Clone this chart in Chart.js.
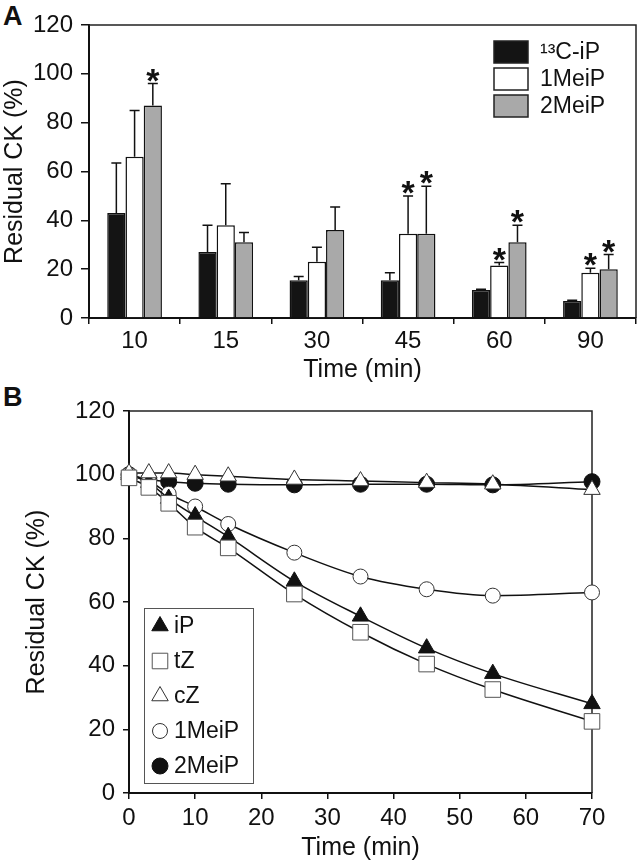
<!DOCTYPE html>
<html>
<head>
<meta charset="utf-8">
<script src="https://cdn.jsdelivr.net/npm/chart.js@4.4.1/dist/chart.umd.min.js"></script>
<style>
  body { margin: 0; background: #fff; width: 640px; height: 866px; position: relative; overflow: hidden; }
  canvas { position: absolute; left: 0; }
  #chartA { top: 0; }
  #chartB { top: 376px; }
  .panel { position: absolute; font: bold 27px "Liberation Sans", Arial, sans-serif; color: #111; line-height: 1; }
</style>
</head>
<body>
<div class="panel" style="left:3px;top:3px">A</div>
<div class="panel" style="left:3px;top:384px">B</div>
<canvas id="chartA" width="640" height="386"></canvas>
<canvas id="chartB" width="640" height="490"></canvas>
<script>
// Panel A: residual CK per incubation time
const timesA = ['10', '15', '30', '45', '60', '90'];
const seriesA = ['¹³C-iP', '1MeiP', '2MeiP'];
const c13iP = [43, 27, 15.5, 15.5, 11.5, 7];
const meiP1 = [66, 38, 23, 34.5, 21.5, 18.5];
const meiP2 = [87, 31, 36, 34.5, 31, 20];
const errC13iP = [20.5, 11, 1.5, 3, 0.3, 0.3];
const errMeiP1 = [19, 17, 6, 15.5, 1.2, 1.9];
const errMeiP2 = [9, 4, 9.5, 19.5, 7, 6];
const starsC13iP = [0, 0, 0, 0, 0, 0];
const starsMeiP1 = [0, 0, 0, 1, 1, 1];
const starsMeiP2 = [1, 0, 0, 1, 1, 1];

// Panel B: time course
const timesB = [0, 3, 6, 10, 15, 25, 35, 45, 55, 70];
const iP = [100, 97.5, 92.5, 87, 80.5, 66.5, 55.5, 45.5, 37.5, 28];
const tZ = [99, 96, 91, 83.5, 77, 62.5, 50.5, 40.5, 32.5, 22.5];
const cZ = [100.5, 100.5, 100.5, 100, 99.5, 98.5, 98, 97.5, 97, 95.3];
const meiP1B = [100, 98, 94, 90, 84.5, 75.5, 68, 64, 62, 63];
const meiP2B = [100, 98.5, 97.8, 97.3, 97, 96.8, 97, 97, 96.8, 97.8];

const FONT = '"Liberation Sans", Arial, sans-serif';
Chart.defaults.font.family = FONT;
Chart.defaults.color = '#111';

// top + right frame of the plot area
const framePlugin = {
  id: 'frame',
  beforeDatasetsDraw(chart) {
    const { ctx, chartArea: a } = chart;
    ctx.save();
    ctx.strokeStyle = '#222';
    ctx.lineWidth = 1.5;
    ctx.beginPath();
    ctx.moveTo(a.left, a.top);
    ctx.lineTo(a.right, a.top);
    ctx.lineTo(a.right, a.bottom);
    ctx.stroke();
    ctx.restore();
  }
};

const errorBarPlugin = {
  id: 'errorBars',
  afterDatasetsDraw(chart) {
    const { ctx } = chart;
    const y = chart.scales.y;
    ctx.save();
    ctx.strokeStyle = '#111';
    ctx.fillStyle = '#111';
    ctx.lineWidth = 1.5;
    chart.data.datasets.forEach((ds, i) => {
      chart.getDatasetMeta(i).data.forEach((bar, j) => {
        const top = y.getPixelForValue(ds.data[j] + ds.errors[j]);
        ctx.beginPath();
        ctx.moveTo(bar.x, bar.y);
        ctx.lineTo(bar.x, top);
        ctx.moveTo(bar.x - 5, top);
        ctx.lineTo(bar.x + 5, top);
        ctx.stroke();
        if (ds.stars[j]) {
          ctx.font = 'bold 34px ' + FONT;
          ctx.textAlign = 'center';
          ctx.textBaseline = 'alphabetic';
          ctx.fillText('*', bar.x, top + 8);
        }
      });
    });
    ctx.restore();
  }
};

const legendAPlugin = {
  id: 'legendA',
  afterDraw(chart) {
    const { ctx, chartArea: a } = chart;
    ctx.save();
    ctx.font = '23px ' + FONT;
    ctx.textBaseline = 'middle';
    ctx.textAlign = 'left';
    chart.data.datasets.forEach((ds, i) => {
      const cy = a.top + 27 + i * 27;
      const x = a.right - 142;
      ctx.fillStyle = ds.backgroundColor;
      ctx.fillRect(x, cy - 11, 34, 22);
      ctx.strokeStyle = '#222';
      ctx.lineWidth = 1.5;
      ctx.strokeRect(x, cy - 11, 34, 22);
      ctx.fillStyle = '#111';
      ctx.fillText(ds.label, x + 46, cy + 1);
    });
    ctx.restore();
  }
};

const legendBPlugin = {
  id: 'legendB',
  afterDraw(chart) {
    const { ctx, chartArea: a } = chart;
    const bx = a.left + 15, by = a.bottom - 185, bw = 109, bh = 175;
    ctx.save();
    ctx.fillStyle = '#fff';
    ctx.fillRect(bx, by, bw, bh);
    ctx.strokeStyle = '#555';
    ctx.lineWidth = 1;
    ctx.strokeRect(bx + 0.5, by + 0.5, bw, bh);
    ctx.font = '23px ' + FONT;
    ctx.textBaseline = 'middle';
    [0, 1, 2, 3, 4].forEach((k, i) => {
      const ds = chart.data.datasets.find(d => d.legendIndex === k);
      const cy = by + 18 + i * 35;
      ctx.fillStyle = ds.pointBackgroundColor;
      ctx.strokeStyle = ds.pointBorderColor;
      ctx.lineWidth = 1;
      Chart.helpers.drawPoint(ctx, { pointStyle: ds.pointStyle, radius: ds.pointRadius, rotation: 0, borderWidth: 1 }, bx + 16, cy);
      ctx.fillStyle = '#111';
      ctx.fillText(ds.label, bx + 30, cy + 1);
    });
    ctx.restore();
  }
};

new Chart(document.getElementById('chartA'), {
  type: 'bar',
  data: {
    labels: timesA,
    datasets: [
      { label: seriesA[0], data: c13iP, errors: errC13iP, stars: starsC13iP, backgroundColor: '#141414' },
      { label: seriesA[1], data: meiP1, errors: errMeiP1, stars: starsMeiP1, backgroundColor: '#ffffff' },
      { label: seriesA[2], data: meiP2, errors: errMeiP2, stars: starsMeiP2, backgroundColor: '#a9a9a9' }
    ].map(d => Object.assign(d, { borderColor: '#111', borderWidth: 1.5, categoryPercentage: 0.6, barPercentage: 1 }))
  },
  options: {
    responsive: false, animation: false,
    layout: { padding: { left: 0, top: 25, right: 4, bottom: 0 } },
    plugins: { legend: { display: false }, tooltip: { enabled: false } },
    scales: {
      x: {
        grid: { drawOnChartArea: false, tickLength: 6, color: '#111', lineWidth: 1.5 },
        border: { color: '#111', width: 2 },
        ticks: { font: { size: 24 }, padding: 3 },
        title: { display: true, text: 'Time (min)', font: { size: 25 }, padding: { top: 0, bottom: 1 } },
        afterFit: s => { s.height = 68; }
      },
      y: {
        min: 0, max: 120,
        grid: { drawOnChartArea: false, tickLength: 8, color: '#111', lineWidth: 1.5 },
        border: { color: '#111', width: 2 },
        ticks: { stepSize: 20, font: { size: 24 }, padding: 8 },
        title: { display: true, text: 'Residual CK (%)', font: { size: 25 }, padding: { top: 0, bottom: 0 } },
        afterFit: s => { s.width = 89; }
      }
    }
  },
  plugins: [framePlugin, errorBarPlugin, legendAPlugin]
});

const pts = (ys) => timesB.map((x, i) => ({ x, y: ys[i] }));
const line = { borderColor: '#111', borderWidth: 1.5, cubicInterpolationMode: 'monotone', clip: false, pointBorderWidth: 1 };

new Chart(document.getElementById('chartB'), {
  type: 'line',
  data: {
    datasets: [
      { label: 'tZ', legendIndex: 1, order: 0, data: pts(tZ), pointStyle: 'rect', pointRadius: 11, pointBackgroundColor: '#fff', pointBorderColor: '#555' },
      { label: 'cZ', legendIndex: 2, order: 1, data: pts(cZ), pointStyle: 'triangle', pointRadius: 9.5, pointBackgroundColor: '#fff', pointBorderColor: '#333' },
      { label: 'iP', legendIndex: 0, order: 2, data: pts(iP), pointStyle: 'triangle', pointRadius: 9.5, pointBackgroundColor: '#111', pointBorderColor: '#111' },
      { label: '1MeiP', legendIndex: 3, order: 3, data: pts(meiP1B), pointStyle: 'circle', pointRadius: 7.5, pointBackgroundColor: '#fff', pointBorderColor: '#333' },
      { label: '2MeiP', legendIndex: 4, order: 4, data: pts(meiP2B), pointStyle: 'circle', pointRadius: 8, pointBackgroundColor: '#111', pointBorderColor: '#111' }
    ].map(d => Object.assign(d, line))
  },
  options: {
    responsive: false, animation: false,
    layout: { padding: { left: 22, top: 35, right: 48, bottom: 0 } },
    plugins: { legend: { display: false }, tooltip: { enabled: false } },
    scales: {
      x: {
        type: 'linear', min: 0, max: 70,
        grid: { drawOnChartArea: false, tickLength: 6, color: '#111', lineWidth: 1.5 },
        border: { color: '#111', width: 2 },
        ticks: { stepSize: 10, font: { size: 24 }, padding: 5 },
        title: { display: true, text: 'Time (min)', font: { size: 25 }, padding: { top: 0, bottom: 3 } },
        afterFit: s => { s.height = 73; }
      },
      y: {
        min: 0, max: 120,
        grid: { drawOnChartArea: false, tickLength: 6, color: '#111', lineWidth: 1.5 },
        border: { color: '#111', width: 2 },
        ticks: { stepSize: 20, font: { size: 24 }, padding: 8 },
        title: { display: true, text: 'Residual CK (%)', font: { size: 25 }, padding: { top: 0, bottom: 0 } },
        afterFit: s => { s.width = 107; }
      }
    }
  },
  plugins: [framePlugin, legendBPlugin]
});
</script>
</body>
</html>
